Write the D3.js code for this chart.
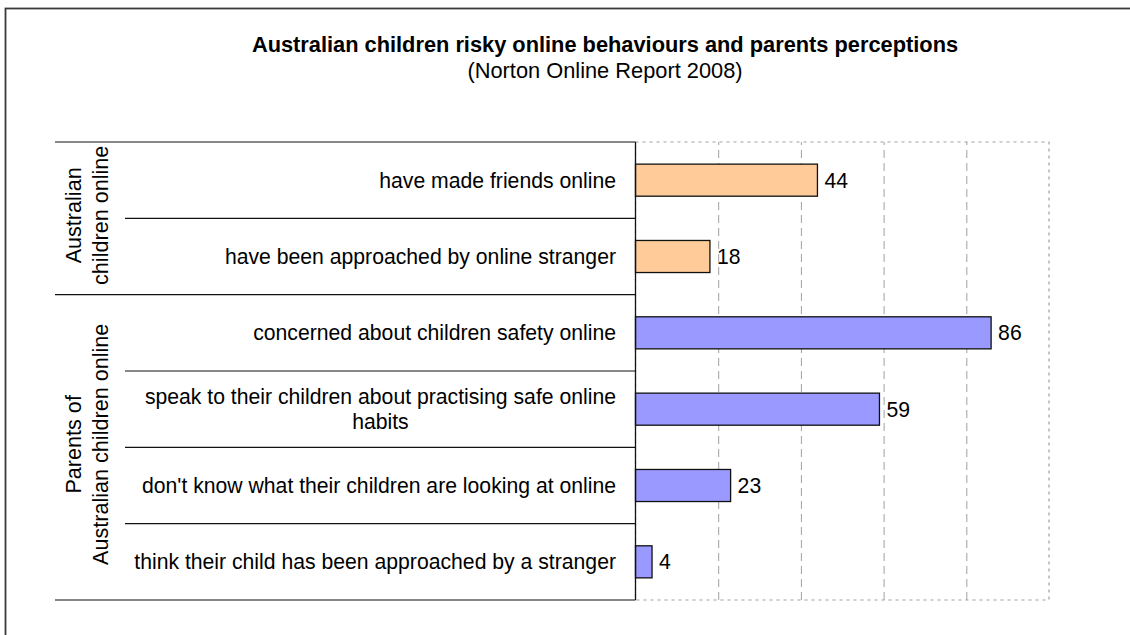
<!DOCTYPE html>
<html>
<head>
<meta charset="utf-8">
<script src="https://cdn.jsdelivr.net/npm/d3@7"></script>
<style>
  html, body { margin: 0; padding: 0; background: #fff; }
  svg { display: block; font-family: "Liberation Sans", Arial, sans-serif; }
</style>
</head>
<body>
<svg id="chart" width="1130" height="635"></svg>
<script>
// Survey results (percent)
const categories = [
  "have made friends online",
  "have been approached by online stranger",
  "concerned about children safety online",
  "speak to their children about practising safe online habits",
  "don't know what their children are looking at online",
  "think their child has been approached by a stranger"
];
const values = [44, 18, 86, 59, 23, 4];
const groupIndex = [0, 0, 1, 1, 1, 1];
const groupLabels = [
  ["Australian", "children online"],
  ["Parents of", "Australian children online"]
];
const groupColors = ["#FFCC99", "#9999FF"];
const xTicks = [0, 20, 40, 60, 80, 100];
const titleText = "Australian children risky online behaviours and parents perceptions";
const subtitleText = "(Norton Online Report 2008)";

const svg = d3.select("#chart");
const plot = { left: 635.5, right: 1049, top: 142, bottom: 600 };
const fontSize = 21.2;
const titleSize = 21.8;

// chart frame (right and bottom edges fall outside the view)
svg.append("rect")
  .attr("x", 5.5).attr("y", 8.5)
  .attr("width", 1200).attr("height", 700)
  .attr("fill", "none").attr("stroke", "#3a3a3a").attr("stroke-width", 1.8);

// titles
svg.append("text")
  .attr("x", 605).attr("y", 52)
  .attr("text-anchor", "middle")
  .attr("font-weight", "bold").attr("font-size", titleSize)
  .text(titleText);
svg.append("text")
  .attr("x", 605).attr("y", 78)
  .attr("text-anchor", "middle")
  .attr("font-size", titleSize)
  .text(subtitleText);

// scales
const x = d3.scaleLinear().domain([0, 100]).range([plot.left, plot.right]);
const rows = d3.scaleBand().domain(categories).range([plot.top, plot.bottom]).padding(0);
const bars = d3.scaleBand().domain(categories).range([plot.top, plot.bottom])
  .paddingInner(0.58).paddingOuter(0.29);

// vertical gridlines from the value axis
const grid = d3.axisBottom(x).tickValues(xTicks.slice(1, -1))
  .tickSize(-(plot.bottom - plot.top)).tickFormat("");
const gridG = svg.append("g")
  .attr("transform", `translate(0,${plot.bottom})`)
  .call(grid);
gridG.select(".domain").remove();
gridG.selectAll(".tick line")
  .attr("stroke", "#a0a0a0").attr("stroke-width", 1)
  .attr("stroke-dasharray", "8,5");

// plot area border (dotted)
svg.append("rect")
  .attr("x", plot.left).attr("y", plot.top)
  .attr("width", plot.right - plot.left).attr("height", plot.bottom - plot.top)
  .attr("fill", "none").attr("stroke", "#a0a0a0").attr("stroke-width", 1.2)
  .attr("stroke-dasharray", "3,4");

// bars
svg.append("g").selectAll("rect")
  .data(categories)
  .join("rect")
  .attr("x", x(0))
  .attr("y", d => bars(d))
  .attr("width", (d, i) => x(values[i]) - x(0))
  .attr("height", bars.bandwidth())
  .attr("fill", (d, i) => groupColors[groupIndex[i]])
  .attr("stroke", "#111").attr("stroke-width", 1.3);

// value labels
svg.append("g").selectAll("text")
  .data(categories)
  .join("text")
  .attr("x", (d, i) => x(values[i]) + 7)
  .attr("y", d => bars(d) + bars.bandwidth() / 2)
  .attr("dy", "0.35em")
  .attr("font-size", fontSize)
  .text((d, i) => values[i]);

// category axis line
svg.append("line")
  .attr("x1", plot.left).attr("x2", plot.left)
  .attr("y1", plot.top).attr("y2", plot.bottom)
  .attr("stroke", "#111").attr("stroke-width", 1.3);

// row separators: short between items, long between groups
const innerLeft = 125, outerLeft = 55;
const boundaries = [plot.top].concat(categories.map(c => rows(c) + rows.bandwidth()));
svg.append("g").selectAll("line")
  .data(boundaries)
  .join("line")
  .attr("x1", (d, i) => {
    if (i === 0 || i === categories.length) return outerLeft;
    return groupIndex[i] !== groupIndex[i - 1] ? outerLeft : innerLeft;
  })
  .attr("x2", plot.left)
  .attr("y1", d => d).attr("y2", d => d)
  .attr("stroke", "#111").attr("stroke-width", 1.2);

// category labels, wrapped when wider than the column
const labelRight = 616, maxLabel = 498, lineGap = 25;
const labelG = svg.append("g").attr("font-size", fontSize);
categories.forEach(cat => {
  const t = labelG.append("text").attr("text-anchor", "middle");
  const words = cat.split(" ");
  const lines = [];
  let cur = [];
  const probe = labelG.append("text").attr("font-size", fontSize);
  words.forEach(w => {
    const trial = cur.concat([w]).join(" ");
    probe.text(trial);
    if (probe.node().getComputedTextLength() > maxLabel && cur.length) {
      lines.push(cur.join(" "));
      cur = [w];
    } else {
      cur.push(w);
    }
  });
  lines.push(cur.join(" "));
  let widest = 0;
  lines.forEach(l => { probe.text(l); widest = Math.max(widest, probe.node().getComputedTextLength()); });
  probe.remove();
  const cx = labelRight - widest / 2;
  const cy = rows(cat) + rows.bandwidth() / 2;
  lines.forEach((l, k) => {
    t.append("tspan")
      .attr("x", cx)
      .attr("y", cy + (k - (lines.length - 1) / 2) * lineGap)
      .attr("dy", "0.35em")
      .text(l);
  });
});

// group labels, rotated
groupLabels.forEach((lines, g) => {
  const members = categories.filter((c, i) => groupIndex[i] === g);
  const y0 = rows(members[0]);
  const y1 = rows(members[members.length - 1]) + rows.bandwidth();
  const cy = (y0 + y1) / 2 - 3;
  const cx = 87;
  const t = svg.append("text")
    .attr("font-size", 21.6)
    .attr("text-anchor", "middle")
    .attr("transform", `translate(${cx},${cy}) rotate(-90)`);
  lines.forEach((l, k) => {
    t.append("tspan")
      .attr("x", 0)
      .attr("y", (k - (lines.length - 1) / 2) * 27)
      .attr("dy", "0.35em")
      .text(l);
  });
});
</script>
</body>
</html>
